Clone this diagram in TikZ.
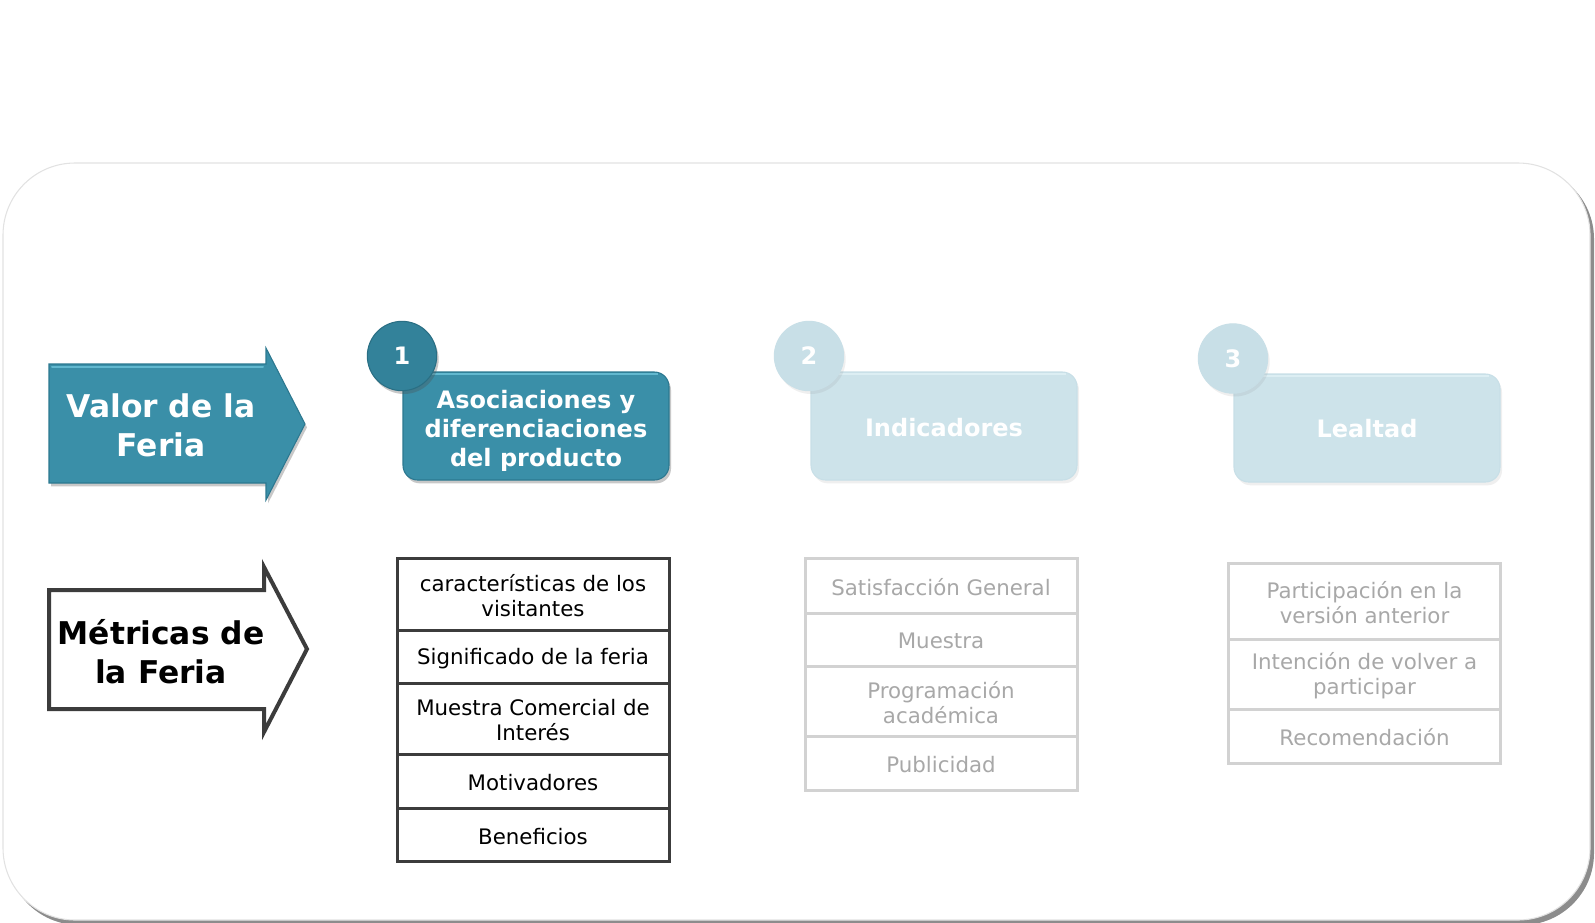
\documentclass[tikz,border=0pt]{standalone}
\usepackage{fontspec}
\setmainfont{DejaVu Sans}
\usetikzlibrary{shadows}
\definecolor{tealA}{HTML}{3A8FA8}
\definecolor{tealL}{HTML}{62B8CF}
\definecolor{tealD}{HTML}{2C7890}
\definecolor{tealC}{HTML}{33829A}
\definecolor{tealE}{HTML}{2A6F84}
\definecolor{paleA}{HTML}{CDE3EA}
\definecolor{paleL}{HTML}{DCEEF3}
\definecolor{paleC}{HTML}{C8DFE7}
\definecolor{darkline}{HTML}{3C3C3C}
\definecolor{lightline}{HTML}{D2D2D2}
\definecolor{lighttext}{HTML}{A8A8A8}
\definecolor{framec}{HTML}{E2E2E2}
\tikzset{
  titletext/.style={align=center, font=\bfseries\fontsize{23.5}{29}\selectfont},
  stagebox/.style={rounded corners=11pt, minimum width=199.5pt, minimum height=81pt, inner sep=0pt},
  stagetext/.style={align=center, text=white, font=\bfseries\fontsize{18}{22}\selectfont, inner sep=0pt},
  numcircle/.style={circle, minimum size=52pt, inner sep=0pt, text=white,
    font=\bfseries\fontsize{18}{22}\selectfont},
  rowdark/.style={draw=darkline, line width=2.25pt, fill=white, minimum width=204pt,
    align=center, inner sep=0pt, font=\fontsize{16}{19}\selectfont, text=black},
  rowlight/.style={draw=lightline, line width=2.25pt, fill=white, minimum width=204pt,
    align=center, inner sep=0pt, font=\fontsize{16}{19}\selectfont, text=lighttext},
  rowtext/.style={align=center, inner sep=0pt, font=\fontsize{16}{19}\selectfont},
  bshadow/.style={drop shadow={shadow xshift=1.5pt, shadow yshift=-2.5pt, opacity=0.3, fill=black!70}},
  pshadow/.style={drop shadow={shadow xshift=1.5pt, shadow yshift=-2.5pt, opacity=0.12}},
}
\begin{document}
\begin{tikzpicture}[x=0.75pt,y=-0.75pt]
\useasboundingbox (0,0) rectangle (1595,922);
% outer frame with shadow
\fill[black!45, rounded corners=54pt] (7,167) rectangle (1594,925);
\draw[framec, fill=white, line width=0.8pt, rounded corners=54pt] (3,163) rectangle (1590,920);

% Valor de la Feria arrow
\path[fill=tealA, draw=tealD, line width=0.8pt, bshadow]
  (49,364) -- (266,364) -- (266,348) -- (305,424) -- (266,500) -- (266,483) -- (49,483) -- cycle;
\draw[tealL, line width=1.5pt, line cap=round] (52,366.5) -- (263,366.5);
\node[titletext, text=white] (valor) at (161,425) {Valor de la\\Feria};

% Metricas de la Feria arrow
\path[fill=white, draw=darkline, line width=3pt, line join=miter]
  (49,590) -- (264,590) -- (264,567) -- (307,649) -- (264,732) -- (264,709) -- (49,709) -- cycle;
\node[titletext, text=black] (metricas) at (161,652) {Métricas de\\la Feria};

% Stage 1
\node[stagebox, fill=tealA, draw=tealD, line width=0.8pt, bshadow] (s1) at (536,426) {};
\draw[tealL, line width=1.5pt] ([xshift=9pt,yshift=-1.6pt]s1.north west) -- ([xshift=-9pt,yshift=-1.6pt]s1.north east);
\node[stagetext] (t1) at (536,431) {Asociaciones y\\diferenciaciones\\del producto};
\node[numcircle, fill=tealC, draw=tealE, line width=0.8pt, bshadow] (n1) at (402,356) {1};

% Stage 2
\node[stagebox, fill=paleA, draw=paleC, line width=0.8pt, pshadow] (s2) at (944,426) {};
\draw[paleL, line width=1.5pt] ([xshift=9pt,yshift=-1.6pt]s2.north west) -- ([xshift=-9pt,yshift=-1.6pt]s2.north east);
\node[stagetext] (t2) at (944,428) {Indicadores};
\node[numcircle, fill=paleC, draw=paleC, line width=0.8pt, pshadow] (n2) at (809,356) {2};

% Stage 3
\node[stagebox, fill=paleA, draw=paleC, line width=0.8pt, pshadow] (s3) at (1367,428) {};
\draw[paleL, line width=1.5pt] ([xshift=9pt,yshift=-1.6pt]s3.north west) -- ([xshift=-9pt,yshift=-1.6pt]s3.north east);
\node[stagetext] (t3) at (1367,429) {Lealtad};
\node[numcircle, fill=paleC, draw=paleC, line width=0.8pt, pshadow] (n3) at (1233,358.5) {3};

% Table 1
\node[rowdark, minimum height=54pt] (a1) at (533,594) {};
\node[rowtext] at (a1) [yshift=-1.2pt] {características de los\\visitantes};
\node[rowdark, minimum height=39.75pt] (a2) at (533,656.5) {};
\node[rowtext] at (a2) [yshift=-1.5pt] {Significado de la feria};
\node[rowdark, minimum height=53.25pt] (a3) at (533,718.5) {};
\node[rowtext] at (a3) [yshift=-1.2pt] {Muestra Comercial de\\Interés};
\node[rowdark, minimum height=40.5pt] (a4) at (533,781) {};
\node[rowtext] at (a4) [yshift=-1.2pt] {Motivadores};
\node[rowdark, minimum height=39.75pt] (a5) at (533,834.5) {};
\node[rowtext] at (a5) [yshift=-1.2pt] {Beneficios};

% Table 2
\node[rowlight, minimum height=41.25pt] (b1) at (941,585.5) {};
\node[rowtext, text=lighttext] at (b1) [yshift=-1.2pt] {Satisfacción General};
\node[rowlight, minimum height=39.75pt] (b2) at (941,639.5) {};
\node[rowtext, text=lighttext] at (b2) [yshift=-1.2pt] {Muestra};
\node[rowlight, minimum height=52.5pt] (b3) at (941,701) {};
\node[rowtext, text=lighttext] at (b3) [yshift=-1.2pt] {Programación\\académica};
\node[rowlight, minimum height=40.5pt] (b4) at (941,763) {};
\node[rowtext, text=lighttext] at (b4) [yshift=-1.2pt] {Publicidad};

% Table 3
\node[rowlight, minimum height=57pt] (c1) at (1364.5,601) {};
\node[rowtext, text=lighttext] at (c1) [yshift=-1.2pt] {Participación en la\\versión anterior};
\node[rowlight, minimum height=52.5pt] (c2) at (1364.5,674) {};
\node[rowtext, text=lighttext] at (c2) [yshift=-1.2pt] {Intención de volver a\\participar};
\node[rowlight, minimum height=40.5pt] (c3) at (1364.5,736) {};
\node[rowtext, text=lighttext] at (c3) [yshift=-1.2pt] {Recomendación};
\end{tikzpicture}
\end{document}
